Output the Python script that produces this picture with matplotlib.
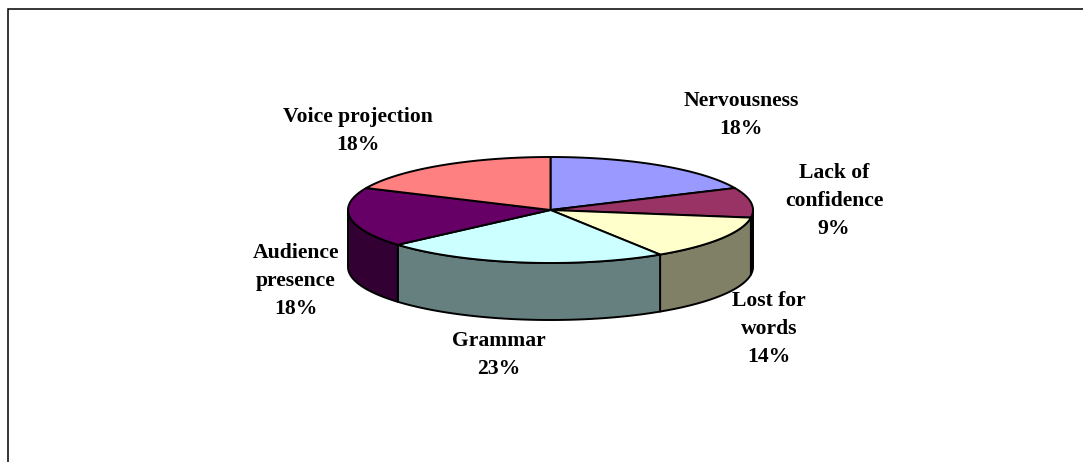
import numpy as np
from matplotlib import pyplot as plt
from matplotlib.patches import Polygon

labels=['Nervousness','Lack of\nconfidence','Lost for\nwords','Grammar','Audience\npresence','Voice projection']
pctText=['18%','9%','14%','23%','18%','18%']
shares=[18.2,9.1,13.6,22.7,18.2,18.2]
topColors=['#9999FF','#993366','#FFFFCC','#CCFFFF','#660066','#FF8080']
sideColors=['#666699','#66223F','#808066','#668080','#330033','#805050']

# label centres, in picture pixels
labelX=[741,834,769,499,296,358]
labelY=[115,201,329,355,281,131]

# pie geometry in picture pixels
cx,cy=550.5,210
rx,ry=202.5,53
depth=57

def rim(a0,a1,n=80):
    # angles clockwise from 12 o'clock, squashed to the ellipse
    t=np.radians(np.linspace(a0,a1,n))
    return cx+rx*np.sin(t),cy-ry*np.cos(t)

fig=plt.figure(figsize=(10.83,4.62),dpi=100)
ax=fig.add_axes([0,0,1,1])
ax.set_xlim(0,1083)
ax.set_ylim(462,0)
ax.axis('off')

# chart frame, cut off by the picture on the right and at the bottom
ax.plot([8,8,1083],[462,9,9],color='black',lw=1.1,solid_joinstyle='miter',clip_on=False)

edges=np.cumsum([0]+shares)/np.sum(shares)*360

# side walls: only the part on the front half shows
for i in range(len(shares)):
    a0=max(edges[i],90)
    a1=min(edges[i+1],270)
    if a1<=a0:
        continue
    x,y=rim(a0,a1)
    xs=np.concatenate([x,x[::-1]])
    ys=np.concatenate([y,y[::-1]+depth])
    ax.add_patch(Polygon(np.column_stack([xs,ys]),closed=True,facecolor=sideColors[i],edgecolor='black',lw=1.4,joinstyle='round'))

# top face
for i in range(len(shares)):
    x,y=rim(edges[i],edges[i+1])
    xs=np.concatenate([[cx],x])
    ys=np.concatenate([[cy],y])
    ax.add_patch(Polygon(np.column_stack([xs,ys]),closed=True,facecolor=topColors[i],edgecolor='black',lw=1.4,joinstyle='round'))

for i in range(len(labels)):
    ax.text(labelX[i],labelY[i],labels[i]+'\n'+pctText[i],ha='center',va='center',multialignment='center',
            family='Liberation Serif',fontweight='bold',fontsize=15.6,linespacing=1.56,color='black',zorder=5)

fig.savefig('out.png',dpi=100)
